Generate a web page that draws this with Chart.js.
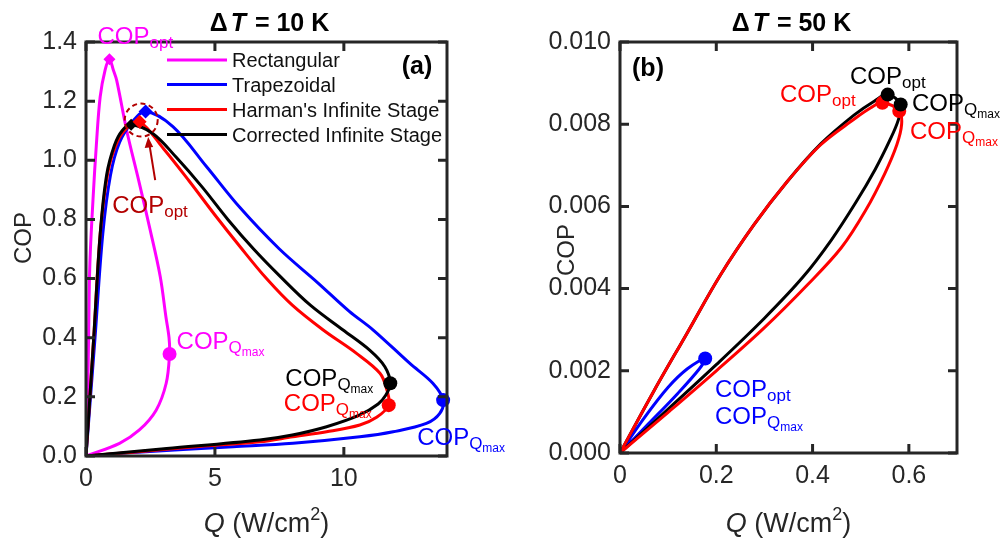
<!DOCTYPE html>
<html><head><meta charset="utf-8">
<script src="https://cdn.jsdelivr.net/npm/chart.js@4.4.0/dist/chart.umd.min.js"></script>
<style>
html,body{margin:0;padding:0;background:#fff;}
#wrap{position:relative;width:1000px;height:541px;overflow:hidden;}
.c{position:absolute;top:0;height:541px;}
</style></head><body>
<div id="wrap">
<div class="c" style="left:0;width:540px"><canvas id="ca"></canvas></div>
<div class="c" style="left:500px;width:500px"><canvas id="cb"></canvas></div>
</div>
<script>
// ---------- names / colours ----------
const seriesNames = ['Rectangular', 'Trapezoidal', "Harman's Infinite Stage", 'Corrected Infinite Stage'];
const seriesColors = ['#ff00ff', '#0000ff', '#ff0000', '#000000'];

// ---------- panel (a): dT = 10 K ----------
const xTicksA = [0, 5, 10];
const yTicksA = [0, 0.2, 0.4, 0.6, 0.8, 1.0, 1.2, 1.4];
const rectQ   = [0, 0.06, 0.1, 0.15, 0.28, 0.4, 0.55, 0.74, 0.91, 1.06, 1.19, 1.58, 2.04, 2.49, 2.88, 3.1, 3.22, 3.24, 3.11, 2.72, 2.07, 1.3, 0];
const rectCOP = [0, 0.2, 0.4, 0.65, 0.88, 1.05, 1.215, 1.305, 1.342, 1.305, 1.27, 1.1, 0.933, 0.764, 0.606, 0.47, 0.4, 0.345, 0.246, 0.155, 0.088, 0.043, 0];
const trapQ   = [0, 0.35, 0.65, 0.95, 1.3, 1.8, 2.31, 3.37, 4.67, 5.97, 7.5, 9.0, 10.2, 11.14, 12.56, 13.45, 13.85, 13.72, 13.2, 11.91, 10.62, 8.03, 5.7, 1.83, 0];
const trapCOP = [0, 0.4, 0.75, 0.95, 1.06, 1.13, 1.165, 1.114, 0.979, 0.84, 0.7, 0.585, 0.49, 0.426, 0.313, 0.246, 0.189, 0.144, 0.11, 0.082, 0.065, 0.043, 0.031, 0.012, 0];
const harmQ   = [0, 0.3, 0.55, 0.85, 1.2, 1.6, 2.08, 3.0, 4.0, 5.0, 6.0, 7.0, 8.0, 9.2, 10.49, 11.4, 11.65, 11.74, 11.27, 10.62, 9.33, 8.02, 6.74, 4.4, 1.83, 0];
const harmCOP = [0, 0.4, 0.75, 0.96, 1.06, 1.11, 1.13, 1.04, 0.93, 0.815, 0.705, 0.6, 0.51, 0.426, 0.347, 0.28, 0.229, 0.172, 0.131, 0.105, 0.082, 0.065, 0.048, 0.032, 0.013, 0];
const corrQ   = [0, 0.3, 0.55, 0.8, 1.1, 1.4, 1.75, 2.6, 3.5, 4.5, 5.5, 6.5, 7.5, 8.7, 9.97, 11.0, 11.59, 11.8, 11.63, 11.33, 10.62, 9.33, 8.0, 6.74, 3.13, 0];
const corrCOP = [0, 0.4, 0.75, 0.95, 1.05, 1.1, 1.12, 1.09, 1.01, 0.91, 0.8, 0.7, 0.61, 0.51, 0.426, 0.358, 0.302, 0.246, 0.206, 0.176, 0.139, 0.099, 0.071, 0.054, 0.025, 0];
// marked points (COP_opt diamonds, COP_Qmax circles)
const optQA   = [0.91, 2.31, 2.08, 1.75];
const optCOPA = [1.342, 1.165, 1.13, 1.12];
const qmaxQA   = [3.24, 13.85, 11.74, 11.8];
const qmaxCOPA = [0.345, 0.189, 0.172, 0.246];

// ---------- panel (b): dT = 50 K ----------
const xTicksB = [0, 0.2, 0.4, 0.6];
const yTicksB = [0, 0.002, 0.004, 0.006, 0.008, 0.010];
const trapQB   = [0, 0.05, 0.1, 0.14, 0.177, 0.165, 0.12, 0.06, 0];
const trapCOPB = [0, 0.00085, 0.0016, 0.00205, 0.0023, 0.00205, 0.00145, 0.00072, 0];
const harmQB   = [0, 0.069, 0.139, 0.208, 0.278, 0.347, 0.417, 0.486, 0.521, 0.545, 0.58, 0.585, 0.575, 0.55, 0.51, 0.46, 0.39, 0.3, 0.2, 0.1, 0];
const harmCOPB = [0, 0.00148, 0.00291, 0.00432, 0.00555, 0.0066, 0.0075, 0.00812, 0.0084, 0.00852, 0.00832, 0.008, 0.0075, 0.0068, 0.0059, 0.005, 0.0041, 0.00305, 0.002, 0.00099, 0];
const corrQB   = [0, 0.069, 0.139, 0.208, 0.278, 0.347, 0.417, 0.486, 0.528, 0.556, 0.583, 0.578, 0.56, 0.53, 0.49, 0.44, 0.38, 0.3, 0.2, 0.1, 0];
const corrCOPB = [0, 0.00148, 0.00291, 0.00432, 0.00555, 0.0066, 0.00752, 0.00822, 0.00856, 0.00872, 0.00848, 0.0081, 0.0076, 0.0069, 0.0061, 0.0052, 0.00428, 0.00328, 0.00215, 0.00107, 0];
const optQB   = [0.545, 0.556];
const optCOPB = [0.00852, 0.00872];
const qmaxQB   = [0.58, 0.583];
const qmaxCOPB = [0.00832, 0.00848];
const blueQB = [0.177], blueCOPB = [0.0023];

// ---------- helpers ----------
const FONT = '"Liberation Sans", Arial, Helvetica, sans-serif';
const TXT = '#262626';
const zip = (xs, ys) => xs.map((x, i) => ({x: x, y: ys[i]}));
function lineDS(label, xs, ys, color, order) {
  return {type: 'scatter', label, data: zip(xs, ys), showLine: true, borderColor: color, backgroundColor: color,
    borderWidth: 3, pointRadius: 0, pointHoverRadius: 0, tension: 0.35, order};
}
function markDS(xs, ys, color, style, r) {
  return {type: 'scatter', label: '', data: zip(xs, ys), showLine: false, pointStyle: style, pointRadius: r,
    borderWidth: 0, backgroundColor: color, borderColor: color, order: 0, clip: false};
}
function rich(ctx, x, y, parts, color, align) {
  ctx.save(); ctx.fillStyle = color; ctx.textBaseline = 'alphabetic'; ctx.textAlign = 'left';
  const f = p => (p.i ? 'italic ' : '') + (p.b ? 'bold ' : '') + p.s + 'px ' + FONT;
  let w = 0;
  for (const p of parts) { ctx.font = f(p); w += ctx.measureText(p.t).width + (p.g || 0); }
  let cx = align === 'right' ? x - w : align === 'center' ? x - w / 2 : x;
  for (const p of parts) { ctx.font = f(p); ctx.fillText(p.t, cx, y + (p.dy || 0)); cx += ctx.measureText(p.t).width + (p.g || 0); }
  ctx.restore();
}
const OPT  = [{t: 'COP', s: 24}, {t: 'opt', s: 17, dy: 4}];
const QMAX = [{t: 'COP', s: 24}, {t: 'Q', s: 17, dy: 4}, {t: 'max', s: 12, dy: 7}];
function frame(chart, xt, yt) {
  const {ctx, chartArea: a, scales} = chart;
  ctx.save(); ctx.strokeStyle = TXT; ctx.lineWidth = 3; ctx.lineJoin = 'miter';
  ctx.strokeRect(a.left, a.top, a.right - a.left, a.bottom - a.top);
  ctx.beginPath();
  for (const v of xt) { const p = scales.x.getPixelForValue(v); ctx.moveTo(p, a.bottom); ctx.lineTo(p, a.bottom - 9); ctx.moveTo(p, a.top); ctx.lineTo(p, a.top + 9); }
  for (const v of yt) { const p = scales.y.getPixelForValue(v); ctx.moveTo(a.left, p); ctx.lineTo(a.left + 9, p); ctx.moveTo(a.right, p); ctx.lineTo(a.right - 9, p); }
  ctx.stroke(); ctx.restore();
}
function axisTitles(chart, title, yx, yc) {
  const {ctx, chartArea: a} = chart;
  const cx = (a.left + a.right) / 2;
  rich(ctx, cx + 3, 31, [{t: '\u0394', s: 25, b: true, g: 3}, {t: 'T', s: 25, b: true, i: true, g: 2}, {t: ' = ' + title, s: 25, b: true}], '#000', 'center');
  rich(ctx, cx, 532, [{t: 'Q', s: 27, i: true}, {t: ' (W/cm', s: 27}, {t: '2', s: 18, dy: -12}, {t: ')', s: 27}], TXT, 'center');
  ctx.save(); ctx.translate(yx, yc); ctx.rotate(-Math.PI / 2);
  rich(ctx, 0, 0, [{t: 'COP', s: 24}], TXT, 'center'); ctx.restore();
}
function P(chart, x, y) { return [chart.scales.x.getPixelForValue(x), chart.scales.y.getPixelForValue(y)]; }

function baseOptions(xmin, xmax, ymin, ymax, xt, yt, fmtX, fmtY, yW, xH, padR) {
  return {
    responsive: true, maintainAspectRatio: false, animation: false, devicePixelRatio: 1,
    layout: {padding: {top: 42, right: padR, left: 0, bottom: 0}},
    plugins: {legend: {display: false}, tooltip: {enabled: false}, title: {display: false}},
    scales: {
      x: {type: 'linear', min: xmin, max: xmax, grid: {display: false, drawTicks: false}, border: {display: false},
        afterBuildTicks: s => { s.ticks = xt.map(v => ({value: v})); },
        afterFit: s => { s.height = xH; },
        ticks: {color: TXT, font: {family: FONT, size: 25}, padding: 8, callback: fmtX}},
      y: {type: 'linear', min: ymin, max: ymax, grid: {display: false, drawTicks: false}, border: {display: false},
        afterBuildTicks: s => { s.ticks = yt.map(v => ({value: v})); },
        afterFit: s => { s.width = yW; },
        ticks: {color: TXT, font: {family: FONT, size: 25}, padding: 9, callback: fmtY}}
    }
  };
}

// ---------- chart (a) ----------
const optsA = baseOptions(0, 14, 0, 1.4, xTicksA, yTicksA, v => String(v), v => Number(v).toFixed(1), 86, 85, 93);
const decorA = {
  id: 'decorA',
  afterDraw(chart) {
    const ctx = chart.ctx;
    frame(chart, xTicksA, yTicksA);
    axisTitles(chart, '10 K', 31, 238);
    // legend
    const rows = [60, 84.5, 109.5, 134.5];
    seriesNames.forEach((n, i) => {
      ctx.save(); ctx.strokeStyle = seriesColors[i]; ctx.lineWidth = 3;
      ctx.beginPath(); ctx.moveTo(167, rows[i]); ctx.lineTo(227, rows[i]); ctx.stroke(); ctx.restore();
      rich(ctx, 232, rows[i] + 7, [{t: n, s: 20}], '#111', 'left');
    });
    rich(ctx, 417, 74, [{t: '(a)', s: 25, b: true}], '#000', 'center');
    // point labels
    let p;
    p = P(chart, optQA[0], optCOPA[0]); rich(ctx, p[0] - 12, p[1] - 15, OPT, seriesColors[0], 'left');
    p = P(chart, qmaxQA[0], qmaxCOPA[0]); rich(ctx, p[0] + 7, p[1] - 5, QMAX, seriesColors[0], 'left');
    p = P(chart, qmaxQA[3], qmaxCOPA[3]); rich(ctx, p[0] - 17, p[1] + 3, QMAX, seriesColors[3], 'right');
    p = P(chart, qmaxQA[2], qmaxCOPA[2]); rich(ctx, p[0] - 17, p[1] + 6, QMAX, seriesColors[2], 'right');
    p = P(chart, qmaxQA[1], qmaxCOPA[1]); rich(ctx, p[0] - 26, p[1] + 45, QMAX, seriesColors[1], 'left');
    // dashed circle + arrow around the optimum cluster
    const dr = '#b30000';
    p = P(chart, 2.14, 1.136);
    ctx.save(); ctx.strokeStyle = dr; ctx.lineWidth = 2; ctx.setLineDash([5, 3.5]);
    ctx.beginPath(); ctx.arc(p[0], p[1], 16.5, 0, Math.PI * 2); ctx.stroke(); ctx.setLineDash([]);
    ctx.beginPath(); ctx.moveTo(p[0] + 14, p[1] + 60); ctx.lineTo(p[0] + 8.5, p[1] + 26); ctx.stroke();
    ctx.fillStyle = dr; ctx.beginPath(); ctx.moveTo(p[0] + 7, p[1] + 17); ctx.lineTo(p[0] + 3.5, p[1] + 28); ctx.lineTo(p[0] + 12, p[1] + 27); ctx.closePath(); ctx.fill();
    ctx.restore();
    rich(ctx, p[0] - 29, p[1] + 93, OPT, dr, 'left');
  }
};
new Chart(document.getElementById('ca'), {
  type: 'scatter',
  data: {datasets: [
    markDS(optQA.slice(0, 1), optCOPA.slice(0, 1), seriesColors[0], 'rectRot', 6),
    markDS(optQA.slice(1, 2), optCOPA.slice(1, 2), seriesColors[1], 'rectRot', 7),
    markDS(optQA.slice(2, 3), optCOPA.slice(2, 3), seriesColors[2], 'rectRot', 7),
    markDS(optQA.slice(3, 4), optCOPA.slice(3, 4), seriesColors[3], 'rectRot', 6),
    markDS(qmaxQA, qmaxCOPA, seriesColors, 'circle', 7),
    lineDS(seriesNames[3], corrQ, corrCOP, seriesColors[3], 1),
    lineDS(seriesNames[2], harmQ, harmCOP, seriesColors[2], 2),
    lineDS(seriesNames[1], trapQ, trapCOP, seriesColors[1], 3),
    lineDS(seriesNames[0], rectQ, rectCOP, seriesColors[0], 4)
  ]},
  options: optsA,
  plugins: [decorA]
});

// ---------- chart (b) ----------
const optsB = baseOptions(0, 0.7, 0, 0.01, xTicksB, yTicksB, v => (v === 0 ? '0' : Number(v).toFixed(1)), v => Number(v).toFixed(3), 120, 88, 43);
const decorB = {
  id: 'decorB',
  afterDraw(chart) {
    const ctx = chart.ctx;
    frame(chart, xTicksB, yTicksB);
    axisTitles(chart, '50 K', 74, 250);
    rich(ctx, 148, 76, [{t: '(b)', s: 25, b: true}], '#000', 'center');
    rich(ctx, 350, 84, OPT, seriesColors[3], 'left');
    rich(ctx, 280, 102, OPT, seriesColors[2], 'left');
    rich(ctx, 412, 111, QMAX, seriesColors[3], 'left');
    rich(ctx, 410, 139, QMAX, seriesColors[2], 'left');
    rich(ctx, 215, 397, OPT, seriesColors[1], 'left');
    rich(ctx, 215, 424, QMAX, seriesColors[1], 'left');
  }
};
new Chart(document.getElementById('cb'), {
  type: 'scatter',
  data: {datasets: [
    markDS(optQB, optCOPB, [seriesColors[2], seriesColors[3]], 'circle', 7),
    markDS(qmaxQB, qmaxCOPB, [seriesColors[2], seriesColors[3]], 'circle', 7),
    markDS(blueQB, blueCOPB, seriesColors[1], 'circle', 7),
    lineDS(seriesNames[3], corrQB, corrCOPB, seriesColors[3], 2),
    lineDS(seriesNames[2], harmQB, harmCOPB, seriesColors[2], 1),
    lineDS(seriesNames[1], trapQB, trapCOPB, seriesColors[1], 3)
  ]},
  options: optsB,
  plugins: [decorB]
});
</script>
</body></html>
